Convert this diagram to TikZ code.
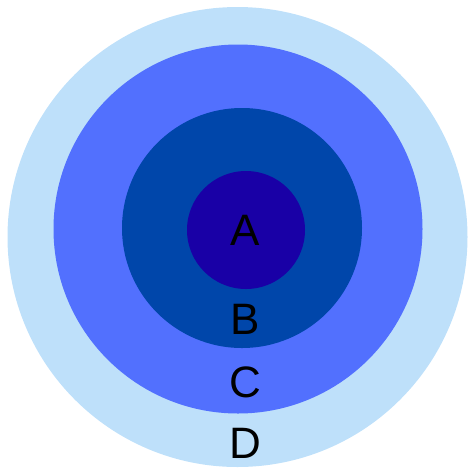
\documentclass[tikz,border=0pt]{standalone}
\usepackage{fontspec}
\setmainfont{Liberation Sans}
\usepackage{tikz}
\definecolor{ringd}{HTML}{BEE0FA}
\definecolor{ringc}{HTML}{5270FE}
\definecolor{ringb}{HTML}{0046AA}
\definecolor{ringa}{HTML}{1900A6}
\tikzset{
  ring/.style={circle,draw=none,inner sep=0pt},
  lab/.style={font=\fontsize{44}{44}\selectfont,text=black,inner sep=0pt},
}

\begin{document}
\begin{tikzpicture}[x=1pt,y=1pt]
  \useasboundingbox (0,0) rectangle (468,-467);
  \clip (0,0) rectangle (468,-467);

  % ---------- rings (outer to inner) ----------
  \node[ring,fill=ringd,minimum size=460pt] (rd) at (237.5,-237) {};
  \node[ring,fill=ringc,minimum size=369pt] (rc) at (238,-229) {};
  \node[ring,fill=ringb,minimum size=240pt] (rb) at (242,-228) {};
  \node[ring,fill=ringa,minimum size=118pt] (ra) at (246,-230) {};

  % ---------- labels ----------
  \node[lab] (la) at (245,-230) {A};
  \node[lab] (lb) at (245,-319) {B};
  \node[lab] (lc) at (245,-382) {C};
  \node[lab] (ld) at (245,-443) {D};
\end{tikzpicture}
\end{document}
